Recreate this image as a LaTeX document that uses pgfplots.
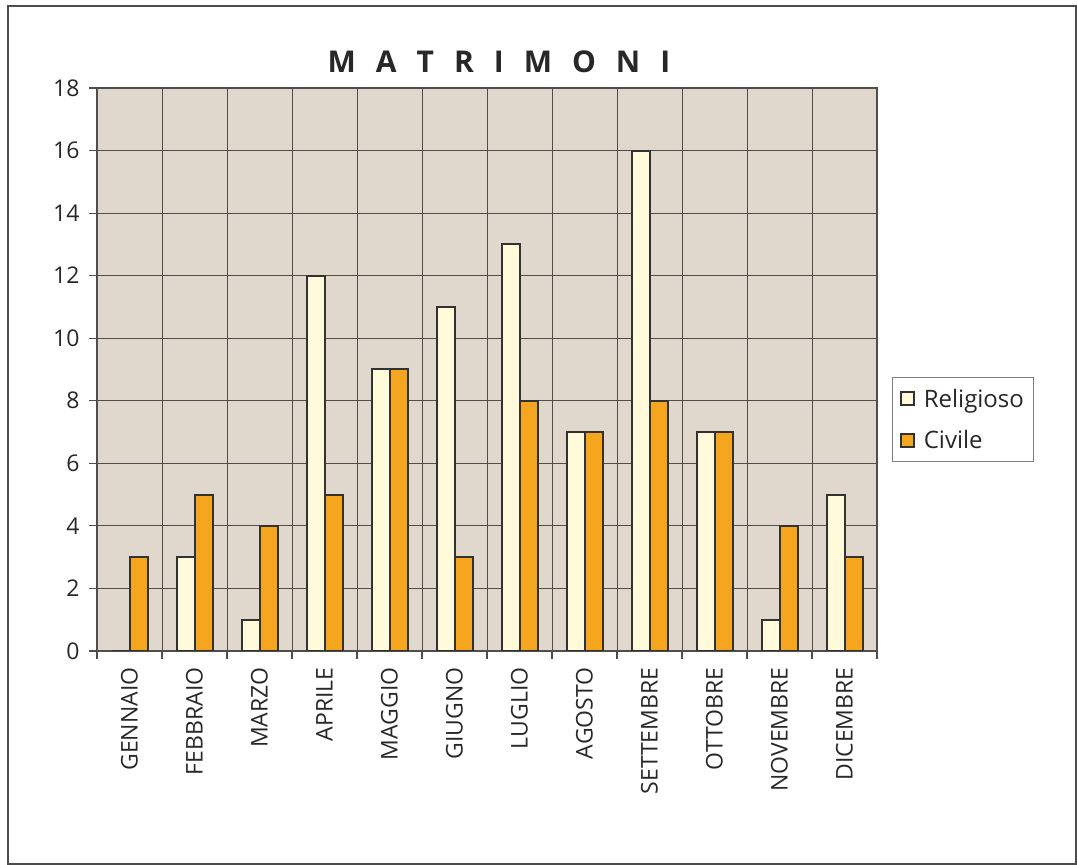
\documentclass[border=0pt]{standalone}
\usepackage{pgfplots}
\pgfplotsset{compat=1.18}
\usepackage{fontspec}
\setmainfont{Open Sans}
\definecolor{bg}{RGB}{224,216,204}
\definecolor{rel}{RGB}{255,250,218}
\definecolor{civ}{RGB}{246,165,30}
\definecolor{edge}{RGB}{50,50,50}
\definecolor{gridc}{RGB}{80,78,76}
\definecolor{txt}{RGB}{40,40,40}
\newcommand{\tsp}{\hspace{20pt}}
\begin{document}
\begin{tikzpicture}[x=1pt,y=1pt]
\useasboundingbox (0,0) rectangle (1077,865);
\draw[gray!60!black, line width=1.2pt] (8,1) rectangle (1076,859);
\node[font=\fontsize{30}{30}\bfseries\selectfont, text=txt] at (499,803) {M\tsp A\tsp T\tsp R\tsp I\tsp M\tsp O\tsp N\tsp I};
\begin{axis}[
  at={(97pt,214pt)}, anchor=south west, scale only axis,
  width=780pt, height=563pt,
  xmin=-0.5, xmax=11.5, ymin=0, ymax=18,
  ytick={0,2,...,18},
  xtick={0,...,11},
  xticklabels={GENNAIO,FEBBRAIO,MARZO,APRILE,MAGGIO,GIUGNO,LUGLIO,AGOSTO,SETTEMBRE,OTTOBRE,NOVEMBRE,DICEMBRE},
  minor xtick={-0.5,0.5,...,11.5},
  xminorgrids, ymajorgrids,
  grid style={draw=gridc, line width=1pt},
  minor grid style={draw=gridc, line width=1pt},
  axis background/.style={fill=bg},
  axis line style={draw=gridc, line width=1.2pt},
  tick align=outside, tick pos=left,
  major tick length=8pt, minor tick length=8pt,
  xtick style={draw=none},
  minor x tick style={draw=gridc, line width=1.2pt},
  ytick style={draw=gridc, line width=1.2pt},
  xticklabel style={rotate=90, anchor=east, font=\fontsize{23}{23}\selectfont, text=txt, xshift=-5pt},
  yticklabel style={font=\fontsize{23}{23}\selectfont, text=txt, xshift=-6pt},
  /pgf/number format/assume math mode=true,
  ybar=0pt, bar width=18pt,
  legend style={at={(1.019,0.411)}, anchor=west, draw=gray, fill=white, line width=1pt,
    font=\fontsize{24}{24}\selectfont, text=txt, row sep=18pt, column sep=7pt, inner xsep=8pt, inner ysep=9pt},
  legend image code/.code={\draw[#1, draw=edge, line width=1.5pt] (0pt,-6.5pt) rectangle (13pt,6.5pt);},
  legend cell align=left,
]
\addplot[fill=rel, draw=edge, line width=2pt] coordinates {(0,0) (1,3) (2,1) (3,12) (4,9) (5,11) (6,13) (7,7) (8,16) (9,7) (10,1) (11,5)};
\addplot[fill=civ, draw=edge, line width=2pt] coordinates {(0,3) (1,5) (2,4) (3,5) (4,9) (5,3) (6,8) (7,7) (8,8) (9,7) (10,4) (11,3)};
\legend{Religioso,Civile}
\end{axis}
\end{tikzpicture}
\end{document}
